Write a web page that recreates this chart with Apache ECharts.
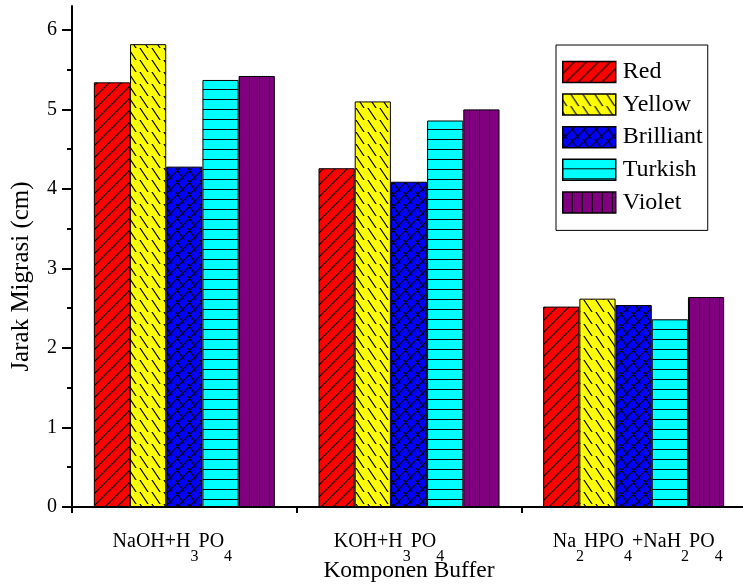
<!DOCTYPE html>
<html>
<head>
<meta charset="utf-8">
<script src="https://cdn.jsdelivr.net/npm/echarts@6/dist/echarts.min.js"></script>
<style>html,body{margin:0;padding:0;background:#fff}#c{width:743px;height:584px}</style>
</head>
<body>
<div id="c"></div>
<script>
var categories = ['NaOH+H3PO4', 'KOH+H3PO4', 'Na2HPO4+NaH2PO4'];
var seriesNames = ['Red', 'Yellow', 'Brilliant', 'Turkish', 'Violet'];
var redValues = [5.34, 4.26, 2.52];
var yellowValues = [5.82, 5.10, 2.62];
var brilliantValues = [4.28, 4.09, 2.54];
var turkishValues = [5.37, 4.86, 2.36];
var violetValues = [5.42, 5.00, 2.64];
var yTickValues = [0, 1, 2, 3, 4, 5, 6];
var yMinorTickValues = [0.5, 1.5, 2.5, 3.5, 4.5, 5.5];

// horizontal label nudges (px, negative = left), style only
var labelShift = [-12, -20, 4];

function makePattern(bg, type, s) {
  var c = document.createElement('canvas');
  c.width = s; c.height = s;
  var g = c.getContext('2d');
  g.fillStyle = bg; g.fillRect(0, 0, s, s);
  g.strokeStyle = '#000'; g.lineWidth = 1.2;
  g.beginPath();
  if (type === 'fwd' || type === 'cross') {
    for (var k = -1; k <= 2; k++) { g.moveTo(k * s - s, 2 * s); g.lineTo(k * s + s, 0); }
  }
  if (type === 'back' || type === 'cross') {
    for (var k2 = -1; k2 <= 2; k2++) { g.moveTo(k2 * s - s, -s); g.lineTo(k2 * s + s, 2 * s); }
  }
  if (type === 'h') { g.lineWidth = 1; g.moveTo(0, s - 0.5); g.lineTo(s, s - 0.5); }
  if (type === 'v') { g.lineWidth = 1; g.moveTo(s - 0.5, 0); g.lineTo(s - 0.5, s); }
  g.stroke();
  return { image: c, repeat: 'repeat' };
}

var styles = [
  makePattern('#ff0000', 'fwd', 12),
  makePattern('#ffff00', 'back', 12),
  makePattern('#0000ff', 'cross', 12),
  makePattern('#00ffff', 'h', 10),
  makePattern('#800080', 'v', 10)
];
var allValues = [redValues, yellowValues, brilliantValues, turkishValues, violetValues];

var chart = echarts.init(document.getElementById('c'), null, { renderer: 'canvas' });
var font = 'Liberation Serif, Times New Roman, serif';

var series = seriesNames.map(function (n, i) {
  return {
    name: n, type: 'bar', data: allValues[i], barWidth: 36.2, barGap: '0%',
    itemStyle: { color: styles[i], borderColor: '#000', borderWidth: 1 }
  };
});

function fmt(v, idx) {
  var parts = v.split(/(\d)/);
  var s = parts.filter(function (p) { return p.length; }).map(function (p) {
    return /\d/.test(p) ? '{s|' + p + '}' : '{m|' + p + '}';
  }).join('');
  var d = labelShift[idx] || 0;
  if (d < 0) s = s + '{g' + idx + '| }';
  else if (d > 0) s = '{g' + idx + '| }' + s;
  return s;
}
var rich = {
  m: { fontFamily: font, fontSize: 20, color: '#000', lineHeight: 20, verticalAlign: 'bottom', padding: [0, 0, 13, 0] },
  s: { fontFamily: font, fontSize: 16, color: '#000', lineHeight: 16, verticalAlign: 'bottom' }
};
labelShift.forEach(function (d, i) { rich['g' + i] = { width: Math.abs(d) * 2, fontSize: 4, lineHeight: 4, verticalAlign: 'bottom' }; });

chart.setOption({
  animation: false,
  backgroundColor: '#fff',
  grid: { left: 72, top: 6, bottom: 77, width: 674, containLabel: false, outerBoundsMode: 'none' },
  legend: {
    orient: 'vertical', left: 556, top: 45,
    padding: [15, 5, 16, 6],
    itemWidth: 53, itemHeight: 21, itemGap: 8.6,
    icon: 'rect',
    borderColor: '#000', borderWidth: 1,
    textStyle: { fontFamily: font, fontSize: 24, color: '#000', padding: [0, 0, 0, 2] },
    itemStyle: { borderColor: '#000', borderWidth: 1.5 },
    data: seriesNames
  },
  xAxis: [{
    type: 'category', data: categories,
    axisLine: { lineStyle: { color: '#000', width: 2 } },
    axisTick: { alignWithLabel: true, length: 9, lineStyle: { color: '#000', width: 2 } },
    axisLabel: {
      interval: 0, margin: 38, color: '#000', fontFamily: font, fontSize: 20,
      formatter: fmt, rich: rich
    },
    name: 'Komponen Buffer', nameLocation: 'middle', nameGap: 52, nameMoveOverlap: false,
    nameTextStyle: { fontFamily: font, fontSize: 23.5, color: '#000' }
  }, {
    type: 'category', data: categories, position: 'bottom',
    axisLine: { show: false },
    axisTick: { show: true, length: 6, lineStyle: { color: '#000', width: 2 } },
    axisLabel: { show: false }
  }],
  yAxis: [{
    type: 'value', min: 0, max: 6.3,
    axisLine: { show: true, lineStyle: { color: '#000', width: 2 } },
    axisTick: { show: true, length: 10, customValues: yTickValues, lineStyle: { color: '#000', width: 2 } },
    axisLabel: { customValues: yTickValues, margin: 15, color: '#000', fontFamily: font, fontSize: 20 },
    splitLine: { show: false },
    name: 'Jarak Migrasi (cm)', nameLocation: 'middle', nameGap: 38,
    nameTextStyle: { fontFamily: font, fontSize: 25, color: '#000', padding: [0, 40, 0, 0] }
  }, {
    type: 'value', min: 0, max: 6.3, position: 'left',
    axisLine: { show: false },
    axisTick: { show: true, length: 5, customValues: yMinorTickValues, lineStyle: { color: '#000', width: 2 } },
    axisLabel: { show: false },
    splitLine: { show: false }
  }],
  series: series
});
</script>
</body>
</html>
